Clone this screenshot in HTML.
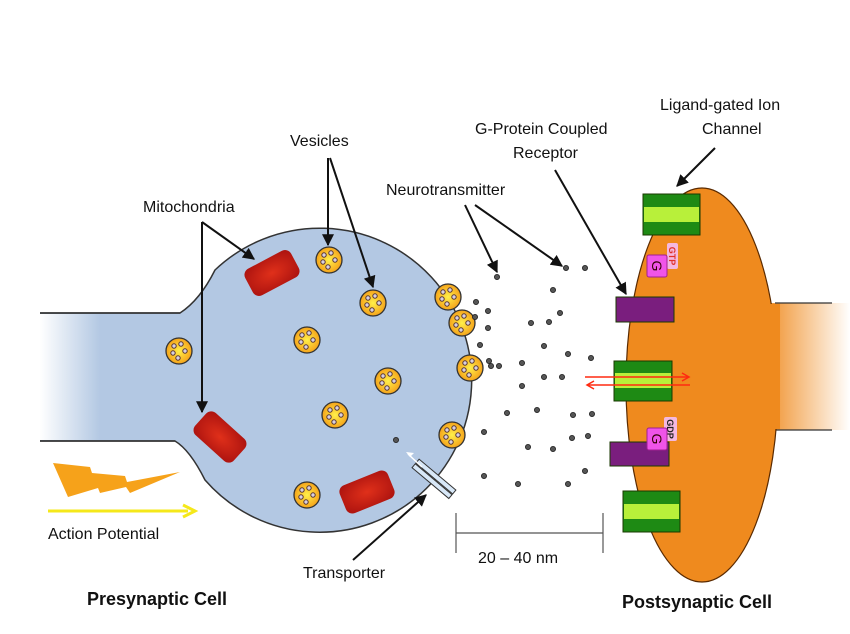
<!DOCTYPE html>
<html><head><meta charset="utf-8"><style>
html,body{margin:0;padding:0;background:#fff;}
svg{display:block;font-family:"Liberation Sans",Arial,sans-serif;}
</style></head><body>
<svg width="850" height="634" viewBox="0 0 850 634" xmlns="http://www.w3.org/2000/svg">
<defs>
<linearGradient id="ax" x1="0" x2="1" y1="0" y2="0"><stop offset="0" stop-color="#fff"/><stop offset="0.5" stop-color="#b3c8e3"/><stop offset="1" stop-color="#b3c8e3"/></linearGradient>
<linearGradient id="dn" x1="0" x2="1" y1="0" y2="0"><stop offset="0" stop-color="#ef8a1e"/><stop offset="1" stop-color="#fff"/></linearGradient>
<radialGradient id="ves" cx="0.5" cy="0.5" r="0.5"><stop offset="0" stop-color="#fff04a"/><stop offset="1" stop-color="#f5a31a"/></radialGradient>
<radialGradient id="mit" cx="0.5" cy="0.5" r="0.6"><stop offset="0" stop-color="#e0301a"/><stop offset="1" stop-color="#b01510"/></radialGradient>
<marker id="ar" viewBox="0 0 10 10" refX="9" refY="5" markerWidth="6" markerHeight="6" orient="auto"><path d="M0,0L10,5L0,10z" fill="#111"/></marker>
<g id="v"><circle r="13" fill="url(#ves)" stroke="#333" stroke-width="1.3"/>
<g fill="#d8d0e0" stroke="#533" stroke-width="1"><circle cx="-5" cy="-5" r="2.2"/><circle cx="2" cy="-7" r="2.2"/><circle cx="6" cy="0" r="2.2"/><circle cx="-6" cy="2" r="2.2"/><circle cx="-1" cy="7" r="2.2"/></g></g>
<rect id="m" x="-26" y="-15" width="52" height="30" rx="7" fill="url(#mit)"/>
<circle id="d" r="2.6" fill="#555" stroke="#222" stroke-width="0.8"/>
</defs>

<rect x="40" y="313" width="160" height="128" fill="url(#ax)"/>
<path d="M40,313 L180,313 Q200,300 215,270 A152,152 0 1 1 205,480 Q190,450 175,441 L40,441" fill="#b3c8e3" stroke="#333" stroke-width="1.5"/>
<rect x="40" y="314" width="120" height="126" fill="url(#ax)"/>
<line x1="40" y1="313" x2="180" y2="313" stroke="#333" stroke-width="1.5"/>
<line x1="40" y1="441" x2="175" y2="441" stroke="#333" stroke-width="1.5"/>

<rect x="760" y="303" width="90" height="127" fill="url(#dn)"/>
<line x1="775" y1="303" x2="832" y2="303" stroke="#333" stroke-width="1.2"/>
<line x1="775" y1="430" x2="832" y2="430" stroke="#333" stroke-width="1.2"/>
<ellipse cx="702" cy="385" rx="76" ry="197" fill="#ef8a1e" stroke="#5a2a00" stroke-width="1.2"/>
<rect x="740" y="304" width="40" height="125" fill="#ef8a1e"/>

<g stroke="#1a3a00" stroke-width="1">
<rect x="643" y="194" width="57" height="41" fill="#1e8a14"/><rect x="644" y="207" width="55" height="15" fill="#b8f03a" stroke="none"/>
<rect x="614" y="361" width="58" height="40" fill="#1e8a14"/><rect x="615" y="373" width="56" height="15" fill="#b8f03a" stroke="none"/>
<rect x="623" y="491" width="57" height="41" fill="#1e8a14"/><rect x="624" y="504" width="55" height="15" fill="#b8f03a" stroke="none"/>
<rect x="616" y="297" width="58" height="25" fill="#7a1e7e"/>
<rect x="610" y="442" width="59" height="24" fill="#7a1e7e"/>
</g>
<rect x="667" y="243" width="11" height="26" rx="2" fill="#f4b8e0"/>
<text x="672" y="256" font-size="9" fill="#e0302a" font-weight="bold" text-anchor="middle" transform="rotate(90 672 256)" dy="3">GTP</text>
<rect x="647" y="255" width="20" height="22" rx="2" fill="#f054e8" stroke="#a02090"/>
<text x="657" y="266" font-size="14" fill="#300" text-anchor="middle" transform="rotate(90 657 266)" dy="5">G</text>
<rect x="664" y="417" width="13" height="24" rx="2" fill="#f4b8e0"/>
<text x="670" y="429" font-size="9" fill="#222" font-weight="bold" text-anchor="middle" transform="rotate(90 670 429)" dy="3">GDP</text>
<rect x="647" y="428" width="20" height="22" rx="2" fill="#f054e8" stroke="#a02090"/>
<text x="657" y="439" font-size="14" fill="#300" text-anchor="middle" transform="rotate(90 657 439)" dy="5">G</text>
<g stroke="#ff2a10" stroke-width="1.5" fill="none">
<line x1="585" y1="377" x2="688" y2="377"/><path d="M682,373L689,377L682,381"/>
<line x1="588" y1="385" x2="690" y2="385"/><path d="M594,381L587,385L594,389"/>
</g>

<use href="#v" x="179" y="351"/><use href="#v" x="329" y="260"/><use href="#v" x="373" y="303"/>
<use href="#v" x="307" y="340"/><use href="#v" x="388" y="381"/><use href="#v" x="335" y="415"/>
<use href="#v" x="307" y="495"/><use href="#v" x="448" y="297"/><use href="#v" x="462" y="323"/>
<use href="#v" x="470" y="368"/><use href="#v" x="452" y="435"/>
<use href="#m" transform="translate(272,273) rotate(-28)"/>
<use href="#m" transform="translate(220,437) rotate(42)"/>
<use href="#m" transform="translate(367,492) rotate(-22)"/>
<g transform="translate(433,480) rotate(-50)"><rect x="-4" y="-24" width="5" height="48" fill="#d8e8f8" stroke="#333"/><rect x="2" y="-24" width="5" height="48" fill="#d8e8f8" stroke="#333"/></g>
<path d="M422,467 L408,454" stroke="#fff" stroke-width="1.5"/><path d="M406,452 l8,1 l-4,4z" fill="#fff"/>

<g>
<use href="#d" x="497" y="277"/><use href="#d" x="566" y="268"/><use href="#d" x="585" y="268"/><use href="#d" x="553" y="290"/>
<use href="#d" x="476" y="302"/><use href="#d" x="488" y="311"/><use href="#d" x="531" y="323"/><use href="#d" x="549" y="322"/>
<use href="#d" x="544" y="346"/><use href="#d" x="568" y="354"/><use href="#d" x="591" y="358"/><use href="#d" x="489" y="361"/>
<use href="#d" x="499" y="366"/><use href="#d" x="522" y="363"/><use href="#d" x="544" y="377"/><use href="#d" x="562" y="377"/>
<use href="#d" x="522" y="386"/><use href="#d" x="507" y="413"/><use href="#d" x="537" y="410"/><use href="#d" x="573" y="415"/>
<use href="#d" x="592" y="414"/><use href="#d" x="484" y="432"/><use href="#d" x="572" y="438"/><use href="#d" x="588" y="436"/>
<use href="#d" x="484" y="476"/><use href="#d" x="518" y="484"/><use href="#d" x="568" y="484"/><use href="#d" x="585" y="471"/>
<use href="#d" x="528" y="447"/><use href="#d" x="553" y="449"/><use href="#d" x="396" y="440"/><use href="#d" x="488" y="328"/>
<use href="#d" x="475" y="317"/><use href="#d" x="491" y="366"/><use href="#d" x="480" y="345"/><use href="#d" x="560" y="313"/>
</g>

<polygon points="53,463 90,467 92,473 125,476 127,482 180,472 130,493 126,487 100,493 98,488 68,497" fill="#f6a21a"/>
<line x1="48" y1="511" x2="188" y2="511" stroke="#f5e81a" stroke-width="3"/>
<path d="M183,505 L195,511 L183,517" stroke="#f5e81a" stroke-width="3" fill="none"/>

<g stroke="#555" stroke-width="1.2"><line x1="456" y1="513" x2="456" y2="553"/><line x1="603" y1="513" x2="603" y2="553"/><line x1="456" y1="533" x2="603" y2="533"/></g>

<g stroke="#111" stroke-width="2" fill="none" marker-end="url(#ar)">
<line x1="202" y1="222" x2="254" y2="259"/><line x1="202" y1="222" x2="202" y2="412"/>
<line x1="328" y1="158" x2="328" y2="245"/><line x1="330" y1="158" x2="373" y2="287"/>
<line x1="465" y1="205" x2="497" y2="272"/><line x1="475" y1="205" x2="562" y2="266"/>
<line x1="555" y1="170" x2="626" y2="294"/><line x1="715" y1="148" x2="677" y2="186"/>
<line x1="353" y1="560" x2="426" y2="495"/>
</g>

<g font-size="16" fill="#111">
<text x="290" y="146">Vesicles</text>
<text x="143" y="212">Mitochondria</text>
<text x="386" y="195">Neurotransmitter</text>
<text x="475" y="134">G-Protein Coupled</text>
<text x="513" y="158">Receptor</text>
<text x="660" y="110">Ligand-gated Ion</text>
<text x="702" y="134">Channel</text>
<text x="48" y="539">Action Potential</text>
<text x="303" y="578">Transporter</text>
<text x="478" y="563">20 – 40 nm</text>
</g>
<text x="87" y="605" font-size="18" font-weight="bold" fill="#111">Presynaptic Cell</text>
<text x="622" y="608" font-size="18" font-weight="bold" fill="#111">Postsynaptic Cell</text>
</svg>
</body></html>
